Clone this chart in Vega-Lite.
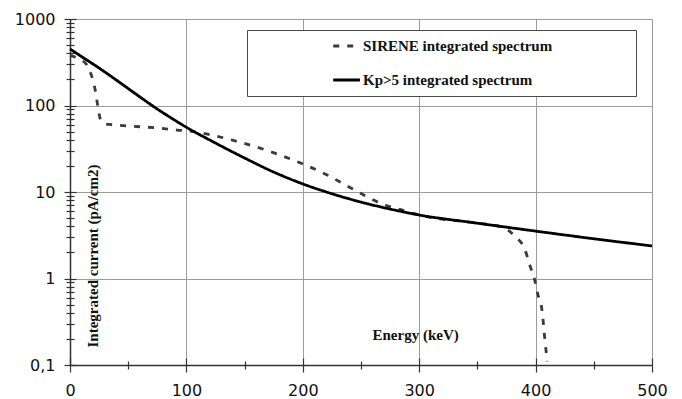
{
  "$schema": "https://vega.github.io/schema/vega-lite/v6.json",
  "width": 582,
  "height": 346,
  "autosize": {"type": "none"},
  "padding": {"left": 70, "top": 19, "right": 30, "bottom": 34},
  "background": "white",
  "config": {"view": {"stroke": null}},
  "data": {
    "values": [
      {"series": "SIRENE integrated spectrum", "E": 0, "I": 380},
      {"series": "SIRENE integrated spectrum", "E": 8, "I": 345},
      {"series": "SIRENE integrated spectrum", "E": 14, "I": 300},
      {"series": "SIRENE integrated spectrum", "E": 17, "I": 250},
      {"series": "SIRENE integrated spectrum", "E": 19.5, "I": 200},
      {"series": "SIRENE integrated spectrum", "E": 22, "I": 143},
      {"series": "SIRENE integrated spectrum", "E": 24, "I": 96},
      {"series": "SIRENE integrated spectrum", "E": 26, "I": 70},
      {"series": "SIRENE integrated spectrum", "E": 29, "I": 62},
      {"series": "SIRENE integrated spectrum", "E": 36, "I": 60},
      {"series": "SIRENE integrated spectrum", "E": 50, "I": 58},
      {"series": "SIRENE integrated spectrum", "E": 75, "I": 55},
      {"series": "SIRENE integrated spectrum", "E": 92, "I": 52},
      {"series": "SIRENE integrated spectrum", "E": 106, "I": 50},
      {"series": "SIRENE integrated spectrum", "E": 120, "I": 46},
      {"series": "SIRENE integrated spectrum", "E": 145, "I": 38},
      {"series": "SIRENE integrated spectrum", "E": 170, "I": 30},
      {"series": "SIRENE integrated spectrum", "E": 196, "I": 22.2},
      {"series": "SIRENE integrated spectrum", "E": 221, "I": 15.7},
      {"series": "SIRENE integrated spectrum", "E": 243, "I": 10.8},
      {"series": "SIRENE integrated spectrum", "E": 268, "I": 7.3},
      {"series": "SIRENE integrated spectrum", "E": 285, "I": 6.2},
      {"series": "SIRENE integrated spectrum", "E": 300, "I": 5.42},
      {"series": "SIRENE integrated spectrum", "E": 350, "I": 4.36},
      {"series": "SIRENE integrated spectrum", "E": 372, "I": 3.9},
      {"series": "SIRENE integrated spectrum", "E": 382, "I": 3.1},
      {"series": "SIRENE integrated spectrum", "E": 391, "I": 2.13},
      {"series": "SIRENE integrated spectrum", "E": 395, "I": 1.43},
      {"series": "SIRENE integrated spectrum", "E": 399, "I": 0.99},
      {"series": "SIRENE integrated spectrum", "E": 402, "I": 0.65},
      {"series": "SIRENE integrated spectrum", "E": 405.5, "I": 0.43},
      {"series": "SIRENE integrated spectrum", "E": 408, "I": 0.195},
      {"series": "SIRENE integrated spectrum", "E": 410, "I": 0.11},
      {"series": "Kp>5 integrated spectrum", "E": 0, "I": 450},
      {"series": "Kp>5 integrated spectrum", "E": 12.5, "I": 349},
      {"series": "Kp>5 integrated spectrum", "E": 25, "I": 271},
      {"series": "Kp>5 integrated spectrum", "E": 37.5, "I": 207},
      {"series": "Kp>5 integrated spectrum", "E": 50, "I": 157},
      {"series": "Kp>5 integrated spectrum", "E": 62.5, "I": 119},
      {"series": "Kp>5 integrated spectrum", "E": 75, "I": 91},
      {"series": "Kp>5 integrated spectrum", "E": 87.5, "I": 71},
      {"series": "Kp>5 integrated spectrum", "E": 100, "I": 56},
      {"series": "Kp>5 integrated spectrum", "E": 125, "I": 36.8},
      {"series": "Kp>5 integrated spectrum", "E": 150, "I": 24.7},
      {"series": "Kp>5 integrated spectrum", "E": 175, "I": 17},
      {"series": "Kp>5 integrated spectrum", "E": 200, "I": 12.4},
      {"series": "Kp>5 integrated spectrum", "E": 225, "I": 9.55},
      {"series": "Kp>5 integrated spectrum", "E": 250, "I": 7.65},
      {"series": "Kp>5 integrated spectrum", "E": 275, "I": 6.35},
      {"series": "Kp>5 integrated spectrum", "E": 300, "I": 5.42},
      {"series": "Kp>5 integrated spectrum", "E": 350, "I": 4.36},
      {"series": "Kp>5 integrated spectrum", "E": 400, "I": 3.53},
      {"series": "Kp>5 integrated spectrum", "E": 450, "I": 2.88},
      {"series": "Kp>5 integrated spectrum", "E": 500, "I": 2.38}
    ]
  },
  "layer": [
    {
      "mark": {"type": "line", "strokeWidth": 2.8, "interpolate": "monotone"},
      "encoding": {
        "x": {
          "field": "E", "type": "quantitative",
          "scale": {"domain": [0, 500], "nice": false, "zero": false},
          "axis": {
            "orient": "bottom",
            "values": [0, 50, 100, 150, 200, 250, 300, 350, 400, 450, 500],
            "labelExpr": "datum.value % 100 === 0 ? datum.label : ''",
            "tickSize": {"condition": {"test": "datum.value % 100 === 0", "value": 7}, "value": 4},
            "grid": true,
            "gridColor": "#9c9c9c",
            "gridWidth": 1,
            "gridOpacity": {"condition": {"test": "datum.value % 100 === 0", "value": 1}, "value": 0},
            "domainColor": "#333333",
            "domainWidth": 1.5,
            "tickColor": "#333333",
            "tickWidth": 1.2,
            "labelFont": "DejaVu Sans",
            "labelFontSize": 16,
            "labelColor": "#111111",
            "labelPadding": 10,
            "labelFlush": false,
            "labelOverlap": false,
            "labelBound": false,
            "title": "Energy (keV)",
            "titleX": 302,
            "titleY": -26,
            "titleAlign": "left",
            "titleBaseline": "alphabetic",
            "titleFont": "Liberation Serif",
            "titleFontSize": 15,
            "titleFontWeight": "bold",
            "titleColor": "#111111"
          }
        },
        "y": {
          "field": "I", "type": "quantitative",
          "scale": {"type": "log", "domain": [0.1, 1000], "nice": false},
          "axis": {
            "orient": "left",
            "values": [0.1, 0.2, 0.3, 0.4, 0.5, 0.6, 0.7, 0.8, 0.9, 1, 2, 3, 4, 5, 6, 7, 8, 9, 10, 20, 30, 40, 50, 60, 70, 80, 90, 100, 200, 300, 400, 500, 600, 700, 800, 900, 1000],
            "labelExpr": "datum.value == 0.1 ? '0,1' : (datum.value == 1 || datum.value == 10 || datum.value == 100 || datum.value == 1000) ? format(datum.value, 'd') : ''",
            "tickSize": {"condition": {"test": "datum.value == 0.1 || datum.value == 1 || datum.value == 10 || datum.value == 100 || datum.value == 1000", "value": 6}, "value": 4},
            "grid": true,
            "gridColor": "#9c9c9c",
            "gridWidth": 1,
            "gridOpacity": {"condition": {"test": "datum.value == 1 || datum.value == 10 || datum.value == 100 || datum.value == 1000", "value": 1}, "value": 0},
            "domainColor": "#333333",
            "domainWidth": 1.5,
            "tickColor": "#333333",
            "tickWidth": 1.2,
            "labelFont": "DejaVu Sans",
            "labelFontSize": 16,
            "labelColor": "#111111",
            "labelPadding": 9,
            "labelOverlap": false,
            "labelBound": false,
            "labelFlush": false,
            "title": "Integrated current (pA/cm2)",
            "titleX": 22,
            "titleY": 328,
            "titleAngle": 270,
            "titleAlign": "left",
            "titleBaseline": "middle",
            "titleFont": "Liberation Serif",
            "titleFontSize": 15,
            "titleFontWeight": "bold",
            "titleColor": "#111111"
          }
        },
        "color": {
          "field": "series", "type": "nominal",
          "scale": {"domain": ["SIRENE integrated spectrum", "Kp>5 integrated spectrum"], "range": ["#3a3a3a", "#000000"]},
          "legend": {
            "title": null,
            "orient": "none",
            "legendX": 177,
            "legendY": 11,
            "direction": "vertical",
            "padding": 8,
            "strokeColor": "#4a4a4a",
            "fillColor": "white",
            "symbolType": "M0.55,0L1.09,0",
            "symbolSize": 9801,
            "symbolStrokeWidth": 3,
            "symbolFillColor": "transparent",
            "clipHeight": 16,
            "rowPadding": 18,
            "labelOffset": 6,
            "labelFont": "Liberation Serif",
            "labelFontSize": 15,
            "labelFontWeight": "bold",
            "labelColor": "#111111",
            "labelLimit": 600,
            "labelExpr": "datum.label + '                    \u200b'"
          }
        },
        "strokeDash": {
          "field": "series", "type": "nominal",
          "scale": {"domain": ["SIRENE integrated spectrum", "Kp>5 integrated spectrum"], "range": [[6, 8], [1, 0]]}
        }
      }
    },
    {
      "mark": {"type": "line", "strokeOpacity": 0},
      "encoding": {
        "detail": {"field": "series"},
        "x": {
          "field": "E", "type": "quantitative",
          "scale": {"domain": [0, 500], "nice": false, "zero": false},
          "axis": {
            "orient": "bottom",
            "values": [0, 50, 100, 150, 200, 250, 300, 350, 400, 450, 500],
            "labels": false,
            "domain": false,
            "grid": false,
            "title": null,
            "tickColor": "#333333",
            "tickWidth": 1.2,
            "tickSize": {"condition": {"test": "datum.value % 100 === 0", "value": -7}, "value": -4}
          }
        },
        "y": {
          "field": "I", "type": "quantitative",
          "scale": {"type": "log", "domain": [0.1, 1000], "nice": false},
          "axis": {
            "orient": "left",
            "values": [0.1, 0.2, 0.3, 0.4, 0.5, 0.6, 0.7, 0.8, 0.9, 1, 2, 3, 4, 5, 6, 7, 8, 9, 10, 20, 30, 40, 50, 60, 70, 80, 90, 100, 200, 300, 400, 500, 600, 700, 800, 900, 1000],
            "labels": false,
            "domain": false,
            "grid": false,
            "title": null,
            "tickColor": "#333333",
            "tickWidth": 1.2,
            "tickSize": {"condition": {"test": "datum.value == 0.1 || datum.value == 1 || datum.value == 10 || datum.value == 100 || datum.value == 1000", "value": -6}, "value": -4}
          }
        }
      }
    }
  ],
  "resolve": {"axis": {"x": "independent", "y": "independent"}}
}
